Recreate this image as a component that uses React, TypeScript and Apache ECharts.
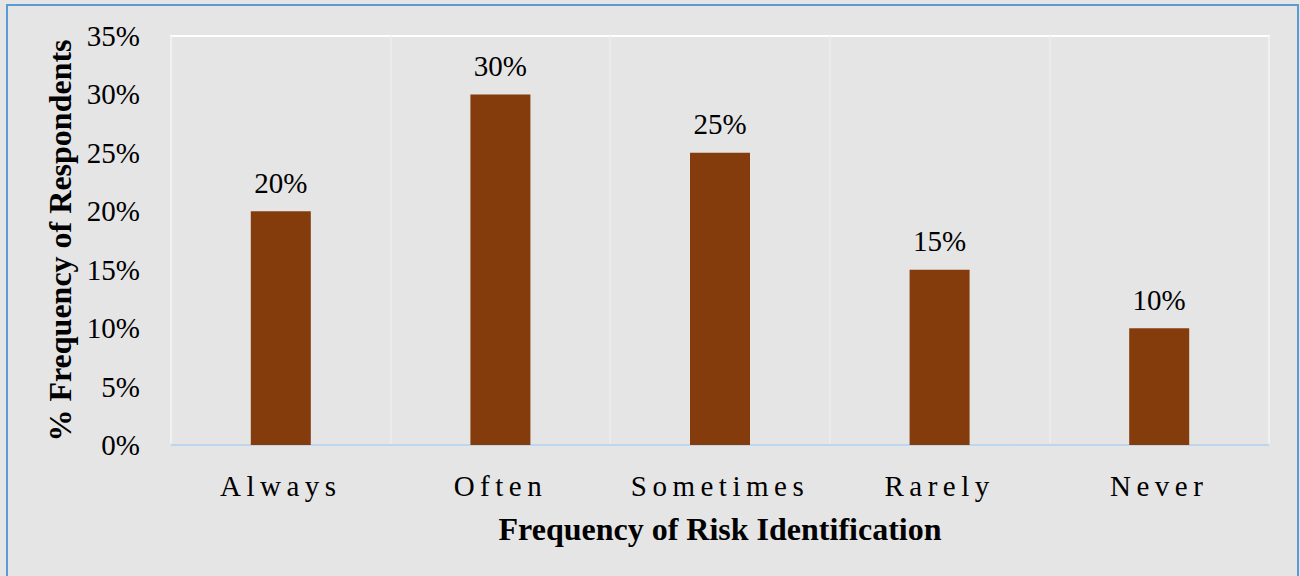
import React, { useEffect, useRef } from "react";
import * as echarts from "echarts";

// Survey responses: how often risks are identified
const categories = ["Always", "Often", "Sometimes", "Rarely", "Never"];
const shares = [20, 30, 25, 15, 10];
const yTicks = { min: 0, max: 35, step: 5 };

const FONT = "'Liberation Serif', 'Times New Roman', serif";
const CATEGORY_SPACING = "5.5px";

export default function App() {
  const ref = useRef<HTMLDivElement | null>(null);

  useEffect(() => {
    document.body.style.margin = "0";
    const el = ref.current;
    if (!el) return;
    const chart = echarts.init(el, undefined, { renderer: "svg" });

    chart.setOption({
      animation: false,
      backgroundColor: "#e5e5e5",
      textStyle: { fontFamily: FONT, color: "#000" },
      graphic: [
        {
          type: "rect",
          shape: { x: 7, y: 5, width: 1291, height: 600 },
          style: { fill: "none", stroke: "#5b9bd5", lineWidth: 2 },
          silent: true,
        },
      ],
      grid: {
        left: 171,
        right: 31,
        top: 36,
        bottom: 131,
        show: true,
        backgroundColor: "transparent",
        borderColor: "#ffffff",
        borderWidth: 2,
      },
      xAxis: {
        type: "category",
        data: categories,
        axisLine: { show: true, lineStyle: { color: "#a9c8e8", width: 1.5 } },
        axisTick: { show: false },
        splitLine: { show: true, interval: 0, lineStyle: { color: "#ececec", width: 1.5 } },
        axisLabel: {
          fontFamily: FONT,
          fontSize: 29,
          color: "#000",
          margin: 26,
          interval: 0,
        },
        name: "Frequency of Risk Identification",
        nameLocation: "middle",
        nameGap: 68,
        nameTextStyle: { fontFamily: FONT, fontSize: 32, fontWeight: "bold", color: "#000" },
      },
      yAxis: {
        type: "value",
        min: yTicks.min,
        max: yTicks.max,
        interval: yTicks.step,
        axisLine: { show: false },
        axisTick: { show: false },
        splitLine: { show: false },
        axisLabel: {
          fontFamily: FONT,
          fontSize: 29,
          color: "#000",
          margin: 31,
          formatter: "{value}%",
        },
        name: "% Frequency of Respondents",
        nameLocation: "middle",
        nameRotate: 90,
        nameGap: 94,
        nameTextStyle: { fontFamily: FONT, fontSize: 32, fontWeight: "bold", color: "#000" },
      },
      series: [
        {
          type: "bar",
          data: shares,
          barWidth: 60,
          itemStyle: { color: "#843c0c" },
          label: {
            show: true,
            position: "top",
            distance: 14,
            formatter: "{c}%",
            fontFamily: FONT,
            fontSize: 29,
            color: "#000",
          },
        },
      ],
    });

    // Spread out the category names along the x axis
    const spreadLabels = () => {
      el.querySelectorAll("text").forEach((t) => {
        if (categories.includes((t.textContent || "").trim())) {
          (t as SVGTextElement).style.letterSpacing = CATEGORY_SPACING;
        }
      });
    };
    chart.on("finished", spreadLabels);
    spreadLabels();

    return () => {
      chart.off("finished", spreadLabels);
      chart.dispose();
    };
  }, []);

  return (
    <div
      ref={ref}
      style={{ position: "absolute", left: 0, top: 0, width: 1300, height: 576 }}
    />
  );
}
